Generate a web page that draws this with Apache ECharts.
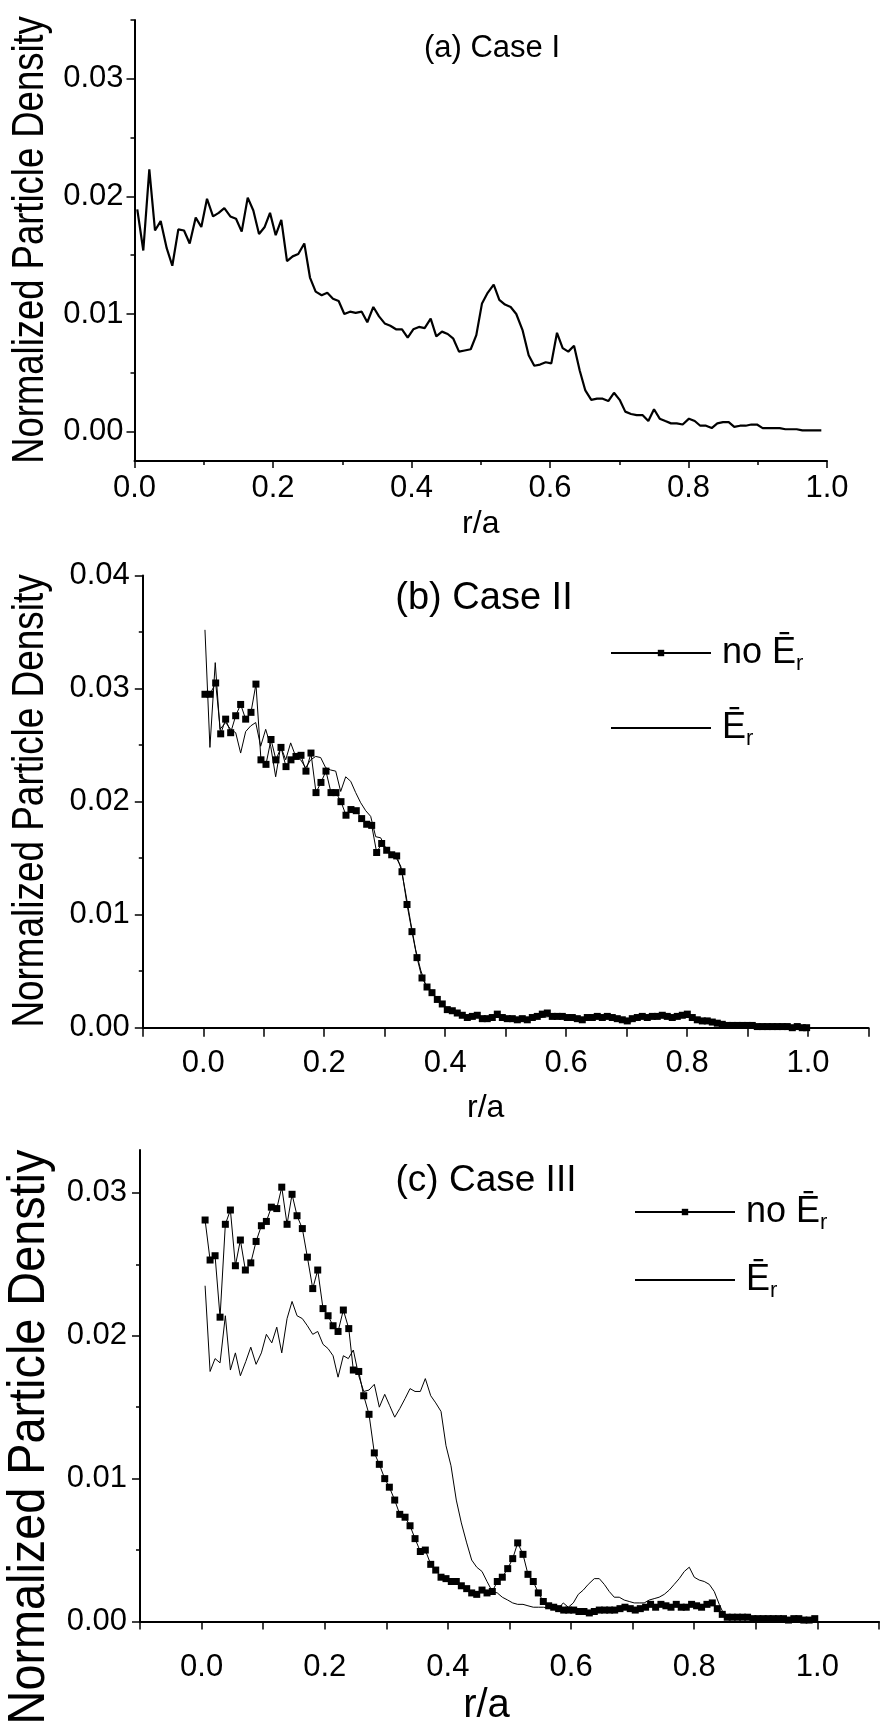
<!DOCTYPE html>
<html>
<head>
<meta charset="utf-8">
<script src="https://cdn.jsdelivr.net/npm/echarts@6/dist/echarts.min.js"></script>
<style>
  html, body { margin: 0; padding: 0; background: #fff; }
  #chart { width: 883px; height: 1729px; }
</style>
</head>
<body>
<div id="chart"></div>
<script>
// (a) Case I : [r/a, density]
const caseI = [
  [0.004,0.0189],[0.0127,0.0154],[0.0214,0.0223],[0.0296,0.0171],[0.0378,0.0179],[0.0465,0.0156],[0.0546,0.0141],[0.0633,0.0172],
  [0.0715,0.0171],[0.0797,0.0160],[0.0884,0.0182],[0.0965,0.0174],[0.1047,0.0198],[0.1134,0.0183],[0.1216,0.0186],[0.1297,0.0190],
  [0.1384,0.0183],[0.1466,0.0181],[0.1548,0.0170],[0.1635,0.0199],[0.1716,0.0188],[0.1798,0.0168],[0.1880,0.0174],[0.1957,0.0186],
  [0.2039,0.0167],[0.2120,0.0180],[0.2202,0.0145],[0.2284,0.0149],[0.2365,0.0151],[0.2452,0.0160],[0.2534,0.0131],[0.2616,0.0119],
  [0.2703,0.0116],[0.2784,0.0118],[0.2866,0.0113],[0.2948,0.0111],[0.3030,0.0100],[0.3112,0.0102],[0.3194,0.0101],[0.3281,0.0102],
  [0.3362,0.0093],[0.3449,0.0106],[0.3531,0.0098],[0.3613,0.0092],[0.3694,0.0090],[0.3776,0.0087],[0.3863,0.0087],[0.3945,0.0080],
  [0.4026,0.0087],[0.4108,0.0089],[0.4190,0.0088],[0.4277,0.0096],[0.4358,0.0081],[0.4440,0.0085],[0.4523,0.0083],[0.4604,0.0079],
  [0.4686,0.0068],[0.4768,0.0069],[0.4855,0.0070],[0.4936,0.0082],[0.5018,0.0109],[0.5100,0.0118],[0.5187,0.0125],[0.5268,0.0112],
  [0.5350,0.0108],[0.5432,0.0106],[0.5513,0.0100],[0.5605,0.0086],[0.5692,0.0065],[0.5773,0.0056],[0.5856,0.0057],[0.5938,0.0059],
  [0.6019,0.0058],[0.6101,0.0084],[0.6183,0.0071],[0.6264,0.0068],[0.6347,0.0073],[0.6429,0.0052],[0.6510,0.0035],[0.6596,0.0027],
  [0.6679,0.0028],[0.6761,0.0028],[0.6842,0.0026],[0.6924,0.0033],[0.7006,0.0027],[0.7087,0.0017],[0.7170,0.0015],[0.7252,0.0014],
  [0.7339,0.0014],[0.7420,0.0009],[0.7502,0.0019],[0.7584,0.0011],[0.7665,0.0009],[0.7747,0.0007],[0.7830,0.0007],[0.7916,0.0006],
  [0.8007,0.0011],[0.8090,0.0009],[0.8170,0.0005],[0.8253,0.0005],[0.8335,0.0003],[0.8416,0.0007],[0.8498,0.0008],[0.8581,0.0008],
  [0.8661,0.0004],[0.8744,0.0005],[0.8826,0.0005],[0.8907,0.0006],[0.8989,0.0006],[0.9071,0.0003],[0.9152,0.0003],[0.9235,0.0003],
  [0.9317,0.0003],[0.9399,0.0002],[0.9480,0.0002],[0.9562,0.0002],[0.9644,0.0001],[0.9726,0.0001],[0.9807,0.0001],[0.9918,0.0001]
];

// (b) Case II
const caseIINoEr = [
  [0.0028,0.0295],[0.011,0.0295],[0.0205,0.0305],[0.0288,0.0260],[0.037,0.0273],[0.0453,0.0261],[0.0536,0.0276],[0.0618,0.0286],
  [0.0701,0.0273],[0.0789,0.0279],[0.0871,0.0304],[0.0954,0.0237],[0.1037,0.0233],[0.112,0.0255],[0.1202,0.0237],[0.1285,0.0248],
  [0.1368,0.0231],[0.145,0.0237],[0.1533,0.0240],[0.1616,0.0241],[0.1698,0.0227],[0.1781,0.0243],[0.1864,0.0208],[0.1946,0.0217],
  [0.2029,0.0227],[0.2112,0.0208],[0.2194,0.0208],[0.2277,0.0200],[0.236,0.0188],[0.2442,0.0193],[0.253,0.0192],[0.2619,0.0185],
  [0.2702,0.0180],[0.2785,0.0179],[0.2867,0.0155],[0.295,0.0163],[0.3033,0.0157],[0.3116,0.0153],[0.3198,0.0152],[0.3286,0.0138],
  [0.3369,0.0109],[0.3451,0.0085],[0.3534,0.0062],[0.3617,0.0044],[0.37,0.0036],[0.3782,0.0031],[0.387,0.0025],[0.3952,0.0021],
  [0.4035,0.0016],[0.4118,0.0015],[0.42,0.0013],[0.4283,0.0011],[0.4366,0.0009],[0.4449,0.0010],[0.4531,0.0011],[0.4614,0.0008],
  [0.4696,0.0008],[0.4779,0.0009],[0.4862,0.0012],[0.4945,0.0009],[0.5027,0.0008],[0.511,0.0008],[0.5193,0.0007],[0.5275,0.0008],
  [0.5358,0.0007],[0.5441,0.0009],[0.5523,0.0010],[0.5606,0.0012],[0.5689,0.0013],[0.5771,0.0010],[0.5854,0.0010],[0.5937,0.0010],
  [0.6019,0.0009],[0.6102,0.0009],[0.6185,0.0008],[0.6267,0.0007],[0.635,0.0009],[0.6433,0.0009],[0.6515,0.0010],[0.6598,0.0009],
  [0.6681,0.0010],[0.6763,0.0009],[0.6846,0.0008],[0.6929,0.0007],[0.7011,0.0006],[0.7094,0.0008],[0.7177,0.0009],[0.7259,0.0010],
  [0.7342,0.0009],[0.7425,0.0010],[0.7507,0.0010],[0.759,0.0011],[0.7673,0.0010],[0.7755,0.0009],[0.7838,0.0010],[0.7921,0.0011],
  [0.8004,0.0012],[0.8086,0.0009],[0.8169,0.0007],[0.8252,0.0006],[0.8334,0.0006],[0.8417,0.0005],[0.85,0.0004],[0.8582,0.0003],
  [0.8665,0.0002],[0.8748,0.0002],[0.883,0.0002],[0.8913,0.0002],[0.8996,0.0002],[0.9078,0.0002],[0.9161,0.0001],[0.9244,0.0001],
  [0.9326,0.0001],[0.9409,0.0001],[0.9492,0.0001],[0.9574,0.0001],[0.9657,0.0001],[0.974,0.0000],[0.9822,0.0001],[0.9905,0.0000],
  [0.9977,0.0000]
];
const caseIIEr = [
  [0.0028,0.0352],[0.011,0.0248],[0.0198,0.0323],[0.0276,0.0264],[0.037,0.0270],[0.0453,0.0264],[0.0536,0.0261],[0.0618,0.0243],
  [0.0701,0.0262],[0.0784,0.0267],[0.0867,0.0270],[0.0949,0.0249],[0.1032,0.0264],[0.1115,0.0249],[0.1197,0.0222],[0.128,0.0249],
  [0.1363,0.0237],[0.1445,0.0252],[0.1528,0.0240],[0.1611,0.0237],[0.1693,0.0230],[0.1776,0.0237],[0.1859,0.0240],[0.1941,0.0239],
  [0.2024,0.0230],[0.2107,0.0228],[0.219,0.0227],[0.2272,0.0209],[0.2355,0.0222],[0.2438,0.0218],[0.252,0.0208],[0.2603,0.0199],
  [0.2686,0.0192],[0.2768,0.0187],[0.2851,0.0169],[0.2934,0.0168],[0.3017,0.0159],[0.3099,0.0155],[0.3182,0.0151],[0.3265,0.0143],
  [0.3347,0.0119],[0.343,0.0093],[0.3512,0.0069],[0.3595,0.0051],[0.3678,0.0038],[0.3761,0.0033],[0.3843,0.0027],[0.3926,0.0022],
  [0.4009,0.0018],[0.4091,0.0015],[0.4174,0.0014],[0.4257,0.0011],[0.4339,0.0010],[0.4422,0.0010],[0.4505,0.0011],[0.4587,0.0009],
  [0.467,0.0009],[0.4753,0.0009],[0.4918,0.0009],[0.5083,0.0007],[0.5248,0.0007],[0.5413,0.0007],[0.5578,0.0009],[0.5743,0.0010],
  [0.5908,0.0008],[0.6073,0.0008],[0.6238,0.0007],[0.6403,0.0008],[0.6568,0.0008],[0.6733,0.0008],[0.6898,0.0006],[0.7063,0.0005],
  [0.7228,0.0008],[0.7393,0.0009],[0.7558,0.0009],[0.7723,0.0008],[0.7888,0.0009],[0.8053,0.0009],[0.8218,0.0005],[0.8383,0.0004],
  [0.8548,0.0003],[0.8713,0.0001],[0.8878,0.0001],[0.9043,0.0001],[0.9208,0.0001],[0.9373,0.0000],[0.9538,0.0001],[0.9703,0.0000],
  [0.9868,0.0000],[0.9977,0.0000]
];

// (c) Case III
const caseIIINoEr = [
  [0.0057,0.0281],[0.0138,0.0253],[0.0219,0.0256],[0.030,0.0213],[0.0386,0.0278],[0.0468,0.0288],[0.0549,0.0249],[0.063,0.0267],
  [0.0711,0.0246],[0.0799,0.0251],[0.0885,0.0266],[0.0971,0.0277],[0.1052,0.0280],[0.1133,0.0290],[0.1221,0.0289],[0.1302,0.0304],
  [0.1388,0.0278],[0.1469,0.0299],[0.155,0.0284],[0.1636,0.0275],[0.1718,0.0255],[0.1805,0.0233],[0.1886,0.0246],[0.1972,0.0219],
  [0.2054,0.0214],[0.2135,0.0207],[0.2216,0.0203],[0.2302,0.0218],[0.239,0.0205],[0.2464,0.0176],[0.2552,0.0175],[0.2633,0.0158],
  [0.2719,0.0145],[0.2805,0.0118],[0.2886,0.0110],[0.2974,0.0100],[0.3049,0.0094],[0.3136,0.0085],[0.3218,0.0075],[0.3304,0.0073],
  [0.3385,0.0067],[0.3466,0.0058],[0.3552,0.0049],[0.3633,0.0050],[0.3721,0.0040],[0.3802,0.0036],[0.3888,0.0031],[0.3969,0.0030],
  [0.4055,0.0028],[0.4136,0.0028],[0.4218,0.0025],[0.4305,0.0023],[0.4386,0.0020],[0.4468,0.0019],[0.4554,0.0022],[0.4635,0.0020],
  [0.4721,0.0021],[0.4802,0.0028],[0.4883,0.0031],[0.4971,0.0037],[0.5052,0.0044],[0.5133,0.0055],[0.5219,0.0047],[0.53,0.0033],
  [0.5386,0.0028],[0.5468,0.0020],[0.5549,0.0014],[0.5636,0.0011],[0.5718,0.0010],[0.5798,0.0009],[0.588,0.0008],[0.5961,0.0008],
  [0.6042,0.0008],[0.6128,0.0007],[0.6209,0.0007],[0.6296,0.0006],[0.6377,0.0007],[0.6458,0.0008],[0.6545,0.0008],[0.6626,0.0008],
  [0.6708,0.0008],[0.6794,0.0009],[0.6875,0.0010],[0.6961,0.0009],[0.7042,0.0008],[0.7124,0.0009],[0.721,0.0010],[0.7291,0.0012],
  [0.7373,0.0010],[0.7459,0.0012],[0.754,0.0011],[0.7622,0.0010],[0.7708,0.0012],[0.7789,0.0010],[0.787,0.0010],[0.7957,0.0012],
  [0.8038,0.0011],[0.8119,0.0010],[0.8206,0.0012],[0.8293,0.0013],[0.8374,0.0009],[0.8455,0.0005],[0.8536,0.0003],[0.8617,0.0003],
  [0.8703,0.0003],[0.8785,0.0003],[0.8866,0.0003],[0.8952,0.0002],[0.9033,0.0002],[0.9119,0.0002],[0.92,0.0002],[0.9282,0.0002],
  [0.9368,0.0002],[0.9449,0.0002],[0.953,0.0001],[0.9617,0.0002],[0.9698,0.0002],[0.9779,0.0001],[0.9866,0.0001],[0.9957,0.0002]
];
const caseIIIEr = [
  [0.0057,0.0235],[0.0138,0.0175],[0.0219,0.0184],[0.030,0.0181],[0.0386,0.0214],[0.0468,0.0176],[0.0549,0.0188],[0.063,0.0172],
  [0.0718,0.0182],[0.0799,0.0192],[0.0885,0.0180],[0.0971,0.0188],[0.1052,0.0201],[0.114,0.0195],[0.1221,0.0206],[0.1302,0.0188],
  [0.1388,0.0212],[0.1469,0.0224],[0.155,0.0214],[0.1636,0.0212],[0.1718,0.0207],[0.1805,0.0201],[0.1886,0.0203],[0.1972,0.0194],
  [0.2054,0.0191],[0.2135,0.0186],[0.2216,0.0171],[0.2302,0.0186],[0.2383,0.0184],[0.2464,0.0190],[0.2552,0.0172],[0.2633,0.0161],
  [0.2719,0.0162],[0.2805,0.0166],[0.2886,0.0150],[0.2974,0.0159],[0.3055,0.0151],[0.3136,0.0143],[0.3218,0.0149],[0.3304,0.0156],
  [0.3385,0.0163],[0.3466,0.0161],[0.3552,0.0161],[0.3633,0.0170],[0.3721,0.0158],[0.3802,0.0153],[0.3888,0.0147],[0.3969,0.0123],
  [0.405,0.0109],[0.4136,0.0085],[0.4218,0.0069],[0.4305,0.0055],[0.4386,0.0043],[0.4468,0.0038],[0.4554,0.0035],[0.4635,0.0028],
  [0.4721,0.0021],[0.4802,0.0020],[0.4883,0.0017],[0.4971,0.0015],[0.5052,0.0013],[0.5133,0.0012],[0.5219,0.0012],[0.53,0.0011],
  [0.5386,0.0010],[0.5468,0.0010],[0.5549,0.0010],[0.5711,0.0009],[0.5792,0.0009],[0.5873,0.0013],[0.5955,0.0010],[0.6036,0.0013],
  [0.6117,0.0019],[0.6198,0.0022],[0.6279,0.0026],[0.6377,0.0030],[0.6458,0.0030],[0.6539,0.0026],[0.662,0.0021],[0.6701,0.0017],
  [0.6782,0.0017],[0.6863,0.0015],[0.6944,0.0014],[0.7025,0.0013],[0.7106,0.0013],[0.7187,0.0013],[0.7268,0.0015],[0.7349,0.0016],
  [0.743,0.0017],[0.7513,0.0019],[0.7594,0.0022],[0.7675,0.0026],[0.7756,0.0030],[0.7838,0.0035],[0.7919,0.0038],[0.80,0.0031],
  [0.8081,0.0029],[0.8162,0.0028],[0.8244,0.0026],[0.8325,0.0021],[0.8406,0.0012],[0.8471,0.0006],[0.8552,0.0004],[0.8717,0.0003],
  [0.8882,0.0003],[0.9047,0.0002],[0.9212,0.0002],[0.9377,0.0002],[0.9542,0.0001],[0.9707,0.0001],[0.9872,0.0001],[0.9957,0.0001]
];

// tick values
const yMajorA = [0, 0.01, 0.02, 0.03];
const yMinorA = [0.005, 0.015, 0.025, 0.035];
const yMajorC = [0, 0.01, 0.02, 0.03];
const yMinorC = [0.005, 0.015, 0.025];
const xTicksBC = [-0.1, 0, 0.1, 0.2, 0.3, 0.4, 0.5, 0.6, 0.7, 0.8, 0.9, 1.0, 1.1];
const xLabelsBC = [0, 0.2, 0.4, 0.6, 0.8, 1.0];

const FONT = "'Liberation Sans', Arial, sans-serif";
const BLACK = '#000';
const TICK_FS = 31;

function yMain(gridIndex, min, max, extra) {
  return Object.assign({
    type: 'value', gridIndex, min, max, position: 'left',
    axisLine: { show: true, onZero: false, lineStyle: { color: BLACK, width: 2 } },
    axisTick: { show: true, length: 8, lineStyle: { color: BLACK, width: 1.5 } },
    axisLabel: { fontFamily: FONT, fontSize: TICK_FS, color: BLACK, margin: 11, formatter: v => v.toFixed(2) },
    splitLine: { show: false }
  }, extra || {});
}

function yMinor(gridIndex, min, max, values) {
  return {
    type: 'value', gridIndex, min, max, position: 'left', offset: 0,
    axisLine: { show: false, onZero: false },
    axisTick: { show: true, length: 4, customValues: values, lineStyle: { color: BLACK, width: 1.5 } },
    axisLabel: { show: false },
    splitLine: { show: false }
  };
}

function xAxisBC(gridIndex, gap, nameSize, margin, tickLen, shift) {
  return {
    type: 'value', gridIndex, min: -0.1, max: 1.1,
    name: 'r/a', nameLocation: 'middle', nameGap: gap,
    nameTextStyle: { fontFamily: FONT, fontSize: nameSize, color: BLACK, padding: [0, shift, 0, 0] },
    axisLine: { onZero: false, lineStyle: { color: BLACK, width: 2 } },
    axisTick: { show: true, length: tickLen, customValues: xTicksBC, lineStyle: { color: BLACK, width: 1.5 } },
    axisLabel: { fontFamily: FONT, fontSize: TICK_FS, color: BLACK, margin, customValues: xLabelsBC, formatter: v => v.toFixed(1) },
    splitLine: { show: false }
  };
}

// the y titles use a condensed face in the original; squeeze them along their length
function yTitle(text, x, y, size, squeeze) {
  return {
    type: 'text', x, y, rotation: Math.PI / 2, scaleX: squeeze, silent: true,
    style: { text, fontFamily: FONT, fontSize: size, fill: BLACK, align: 'center', verticalAlign: 'middle' }
  };
}

const rich = {
  t: { fontFamily: FONT, fontSize: 36, color: BLACK, lineHeight: 44 },
  s: { fontFamily: FONT, fontSize: 22, color: BLACK, lineHeight: 24, verticalAlign: 'bottom' }
};
function legendFor(left, top, gap, names) {
  return {
    left, top, orient: 'vertical', itemGap: gap, itemWidth: 100, itemHeight: 8,
    padding: 0, selectedMode: false,
    data: [
      { name: names[0] },
      // plain line, no marker
      { name: names[1], itemStyle: { color: 'rgba(0,0,0,0)', borderColor: 'rgba(0,0,0,0)', borderWidth: 0 } }
    ],
    formatter: n => n.startsWith('no') ? '{t|no Ē}{s|r}' : '{t|Ē}{s|r}',
    textStyle: { rich, padding: [0, 0, 0, 6] }
  };
}

const lineBase = { type: 'line', animation: false, color: BLACK };

const option = {
  backgroundColor: '#fff',
  animation: false,
  title: [
    { text: '(a) Case I', left: 492, top: 33, textAlign: 'center', padding: 0,
      textStyle: { fontFamily: FONT, fontSize: 31, fontWeight: 'normal', color: BLACK } },
    { text: '(b) Case II', left: 484, top: 580, textAlign: 'center', padding: 0,
      textStyle: { fontFamily: FONT, fontSize: 38, fontWeight: 'normal', color: BLACK } },
    { text: '(c) Case III', left: 486, top: 1162, textAlign: 'center', padding: 0,
      textStyle: { fontFamily: FONT, fontSize: 37, fontWeight: 'normal', color: BLACK } }
  ],
  graphic: [
    yTitle('Normalized Particle Density', 31, 240, 45, 0.81),
    yTitle('Normalized Particle Density', 31, 801, 45, 0.82),
    yTitle('Normalized Particle Denstiy', 30, 1437, 52, 0.9)
  ],
  legend: [
    legendFor(610, 635, 35, ['no Er (b)', 'Er (b)']),
    legendFor(634, 1194, 28, ['no Er (c)', 'Er (c)'])
  ],
  grid: [
    { left: 134.5, top: 20, width: 692.5, height: 441 },
    { left: 142.8, top: 575.6, width: 725.7, height: 452.1 },
    { left: 140, top: 1150, width: 739, height: 471.5 }
  ],
  xAxis: [
    {
      type: 'value', gridIndex: 0, min: 0, max: 1, interval: 0.2,
      name: 'r/a', nameLocation: 'middle', nameGap: 47,
      nameTextStyle: { fontFamily: FONT, fontSize: 32, color: BLACK },
      axisLine: { onZero: false, lineStyle: { color: BLACK, width: 2 } },
      axisTick: { show: true, length: 7, lineStyle: { color: BLACK, width: 1.5 } },
      minorTick: { show: true, splitNumber: 2, length: 4, lineStyle: { color: BLACK, width: 1.5 } },
      axisLabel: { fontFamily: FONT, fontSize: TICK_FS, color: BLACK, margin: 12, formatter: v => v.toFixed(1) },
      splitLine: { show: false }
    },
    xAxisBC(1, 64, 32, 20, 9, 40),
    xAxisBC(2, 64, 40, 30, 8, 46)
  ],
  yAxis: [
    yMain(0, -0.0025, 0.035, {
      axisTick: { show: true, length: 8, customValues: yMajorA, lineStyle: { color: BLACK, width: 1.5 } },
      axisLabel: { fontFamily: FONT, fontSize: TICK_FS, color: BLACK, margin: 11, customValues: yMajorA, formatter: v => v.toFixed(2) }
    }),
    yMinor(0, -0.0025, 0.035, yMinorA),
    yMain(1, 0, 0.04, {
      interval: 0.01,
      axisLabel: { fontFamily: FONT, fontSize: TICK_FS, color: BLACK, margin: 13, formatter: v => v.toFixed(2) },
      minorTick: { show: true, splitNumber: 2, length: 4, lineStyle: { color: BLACK, width: 1.5 } }
    }),
    yMain(2, 0, 0.033, {
      axisTick: { show: true, length: 8, customValues: yMajorC, lineStyle: { color: BLACK, width: 1.5 } },
      axisLabel: { fontFamily: FONT, fontSize: TICK_FS, color: BLACK, margin: 13, customValues: yMajorC, formatter: v => v.toFixed(2) }
    }),
    yMinor(2, 0, 0.033, yMinorC)
  ],
  series: [
    Object.assign({}, lineBase, {
      name: 'Case I', xAxisIndex: 0, yAxisIndex: 0, data: caseI,
      showSymbol: false, symbol: 'none', lineStyle: { color: BLACK, width: 2.2 }
    }),
    Object.assign({}, lineBase, {
      name: 'Er (b)', xAxisIndex: 1, yAxisIndex: 2, data: caseIIEr,
      symbol: 'none', lineStyle: { color: BLACK, width: 1 }
    }),
    Object.assign({}, lineBase, {
      name: 'no Er (b)', xAxisIndex: 1, yAxisIndex: 2, data: caseIINoEr,
      symbol: 'rect', symbolSize: 7, showAllSymbol: true,
      itemStyle: { color: BLACK }, lineStyle: { color: BLACK, width: 1 }
    }),
    Object.assign({}, lineBase, {
      name: 'Er (c)', xAxisIndex: 2, yAxisIndex: 3, data: caseIIIEr,
      symbol: 'none', lineStyle: { color: BLACK, width: 1 }
    }),
    Object.assign({}, lineBase, {
      name: 'no Er (c)', xAxisIndex: 2, yAxisIndex: 3, data: caseIIINoEr,
      symbol: 'rect', symbolSize: 7, showAllSymbol: true,
      itemStyle: { color: BLACK }, lineStyle: { color: BLACK, width: 1 }
    })
  ]
};

const myChart = echarts.init(document.getElementById('chart'), null, { renderer: 'canvas' });
myChart.setOption(option);
</script>
</body>
</html>
